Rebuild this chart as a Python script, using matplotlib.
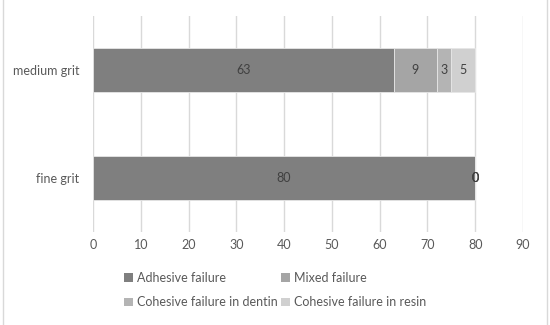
import matplotlib
matplotlib.use("Agg")
import matplotlib.pyplot as plt
from matplotlib.patches import Patch
from matplotlib.lines import Line2D

categories = ["fine grit", "medium grit"]
series_names = ["Adhesive failure", "Mixed failure",
                "Cohesive failure in dentin", "Cohesive failure in resin"]
adhesive = [80, 63]
mixed = [0, 9]
coh_dentin = [0, 3]
coh_resin = [0, 5]
xticks = [0, 10, 20, 30, 40, 50, 60, 70, 80, 90]

series = [adhesive, mixed, coh_dentin, coh_resin]
colors = ["#7f7f7f", "#a5a5a5", "#b4b4b4", "#d0d0d0"]
text_color = "#595959"

plt.rcParams['font.family'] = ['Lato', 'DejaVu Sans']

W, H = 550, 325
fig = plt.figure(figsize=(W / 100, H / 100), dpi=100)
ax = fig.add_axes([93 / W, 1 - 232 / H, (523 - 93) / W, (232 - 16) / H])

ypos = list(range(len(categories)))
left = [0] * len(categories)
for vals, name, c in zip(series, series_names, colors):
    bars = ax.barh(ypos, vals, left=left, height=0.41, color=c,
                   edgecolor="#e6e6e6", linewidth=0.6, label=name, zorder=3)
    for i, (b, v) in enumerate(zip(bars, vals)):
        ax.text(left[i] + v / 2, ypos[i], str(v), ha="center", va="center",
                fontsize=9, color="#404040", zorder=4)
    left = [l + v for l, v in zip(left, vals)]

ax.set_xlim(0, 90)
ax.set_ylim(-0.5, 1.5)
ax.set_xticks(xticks)
ax.set_xticklabels([str(t) for t in xticks])
ax.set_yticks(ypos)
ax.set_yticklabels(categories)
ax.tick_params(axis="both", length=0, labelsize=9, colors=text_color)
ax.tick_params(axis="x", pad=5)
ax.tick_params(axis="y", pad=10)
ax.grid(axis="x", color="#d9d9d9", linewidth=1.0, zorder=0)
for s in ax.spines.values():
    s.set_visible(False)

# legend filled column-wise: reorder so rows read Adhesive|Mixed, dentin|resin
order = [0, 2, 1, 3]
handles = [Patch(facecolor=colors[i], edgecolor="none") for i in order]
labels = [series_names[i] for i in order]
fig.legend(handles, labels, ncol=2, loc="center left",
           bbox_to_anchor=(113 / W, 1 - 290 / H), frameon=False,
           fontsize=9, labelcolor=text_color, handlelength=0.7,
           handleheight=0.7, handletextpad=0.3, columnspacing=0.3,
           labelspacing=1.0)

# outer frame side lines
fig.add_artist(Line2D([3 / W, 3 / W], [0, 1], color="#d9d9d9", linewidth=1.0,
                      transform=fig.transFigure))
fig.add_artist(Line2D([547 / W, 547 / W], [0, 1], color="#d9d9d9", linewidth=1.0,
                      transform=fig.transFigure))

fig.savefig("out.png", dpi=100)
